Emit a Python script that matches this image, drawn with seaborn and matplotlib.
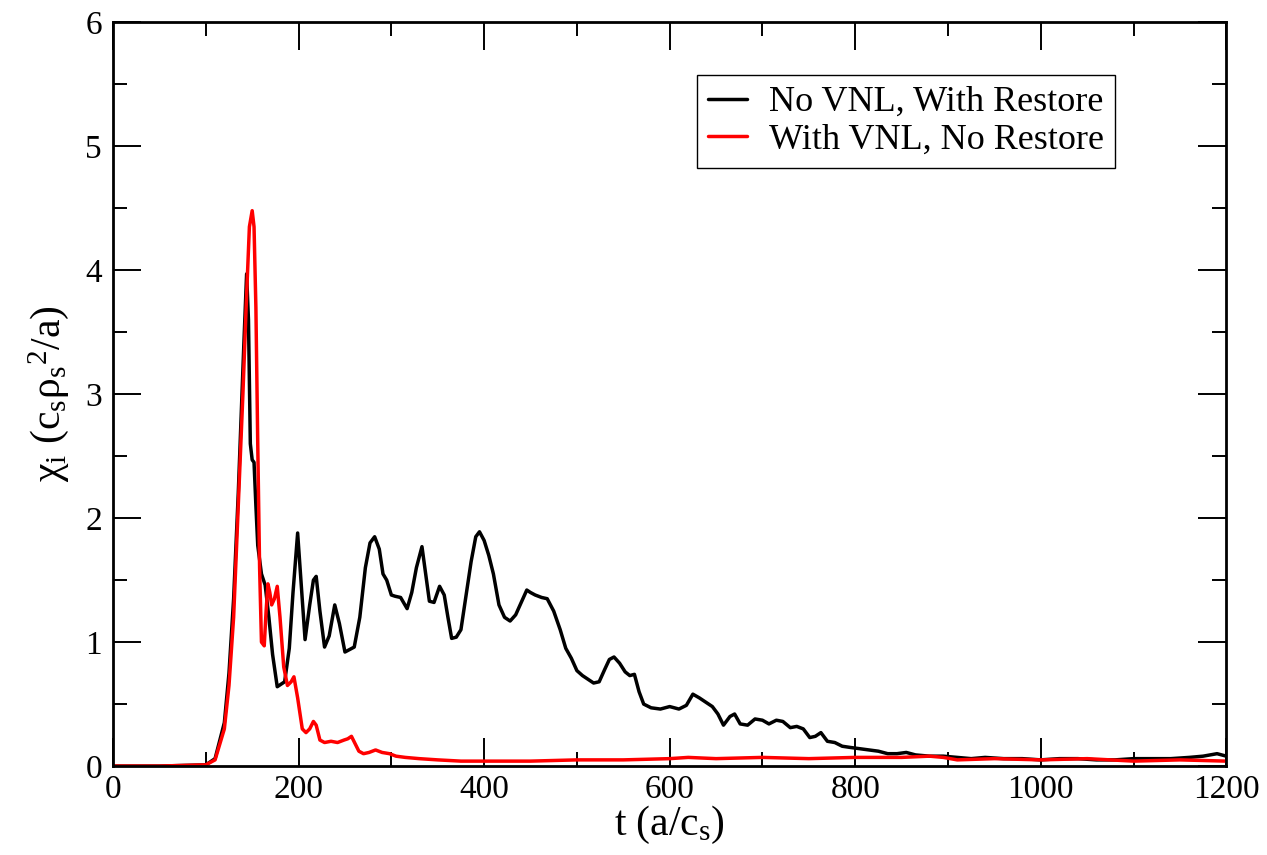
import numpy as np
import pandas as pd
import seaborn as sns
import matplotlib
matplotlib.use("Agg")
import matplotlib.pyplot as plt
from matplotlib.ticker import MultipleLocator

# Ion heat diffusivity traces versus time, as (t, chi_i) samples
restore_points = [
    (0, 0.0), (50, 0.0), (100, 0.01), (110, 0.06), (120, 0.35), (125, 0.75), (130, 1.35),
    (135, 2.2), (138, 2.8), (141, 3.4), (144, 3.97), (146, 3.6), (148, 2.6), (150, 2.47),
    (152, 2.45), (154, 2.1), (156, 1.78), (160, 1.55), (164, 1.46), (168, 1.2), (172, 0.9),
    (177, 0.64), (181, 0.66), (185, 0.68), (190, 0.95), (194, 1.4), (199, 1.88), (203, 1.45),
    (207, 1.02), (212, 1.3), (216, 1.5), (219, 1.53), (223, 1.25), (228, 0.96), (233, 1.05),
    (239, 1.3), (244, 1.15), (250, 0.92), (255, 0.94), (260, 0.96), (266, 1.2), (272, 1.6),
    (277, 1.8), (282, 1.85), (287, 1.75), (291, 1.55), (295, 1.5), (300, 1.38), (304, 1.37),
    (310, 1.36), (317, 1.27), (322, 1.4), (327, 1.6), (333, 1.77), (337, 1.55), (341, 1.33),
    (346, 1.32), (352, 1.45), (357, 1.38), (361, 1.2), (365, 1.03), (370, 1.04), (375, 1.1),
    (380, 1.35), (386, 1.65), (391, 1.85), (395, 1.89), (400, 1.82), (405, 1.7), (410, 1.55),
    (416, 1.3), (422, 1.2), (428, 1.17), (434, 1.22), (440, 1.32), (446, 1.42), (450, 1.4),
    (455, 1.38), (462, 1.36), (468, 1.35), (475, 1.25), (482, 1.1), (488, 0.95), (494, 0.87),
    (500, 0.77), (506, 0.73), (512, 0.7), (518, 0.67), (524, 0.68), (530, 0.78), (535, 0.86),
    (540, 0.88), (546, 0.83), (552, 0.76), (557, 0.73), (562, 0.74), (567, 0.6), (572, 0.5),
    (580, 0.47), (590, 0.46), (600, 0.48), (610, 0.46), (618, 0.49), (625, 0.58), (632, 0.55),
    (640, 0.51), (646, 0.48), (652, 0.42), (658, 0.33), (665, 0.4), (670, 0.42), (676, 0.34),
    (684, 0.33), (692, 0.38), (700, 0.37), (707, 0.34), (715, 0.37), (722, 0.36), (730, 0.31),
    (737, 0.32), (744, 0.3), (751, 0.23), (757, 0.24), (763, 0.27), (770, 0.2), (778, 0.19),
    (786, 0.16), (795, 0.15), (805, 0.14), (815, 0.13), (825, 0.12), (835, 0.1), (845, 0.1),
    (855, 0.11), (865, 0.09), (880, 0.08), (895, 0.08), (910, 0.07), (925, 0.06), (940, 0.07),
    (960, 0.06), (980, 0.06), (1000, 0.05), (1020, 0.06), (1040, 0.06), (1060, 0.05),
    (1080, 0.05), (1100, 0.06), (1120, 0.06), (1140, 0.06), (1160, 0.07), (1175, 0.08),
    (1190, 0.1), (1200, 0.08),
]

vnl_points = [
    (0, 0.0), (50, 0.0), (100, 0.01), (110, 0.05), (120, 0.3), (125, 0.65), (130, 1.2),
    (135, 2.1), (140, 3.0), (144, 3.8), (147, 4.35), (150, 4.48), (152, 4.35), (154, 3.7),
    (156, 2.6), (158, 1.6), (160, 1.0), (163, 0.97), (165, 1.25), (167, 1.47), (169, 1.4),
    (171, 1.3), (174, 1.35), (177, 1.45), (180, 1.2), (184, 0.8), (188, 0.65), (192, 0.68),
    (195, 0.72), (199, 0.55), (204, 0.3), (208, 0.27), (212, 0.3), (216, 0.36), (219, 0.33),
    (223, 0.21), (228, 0.19), (235, 0.2), (242, 0.19), (249, 0.21), (253, 0.22), (257, 0.24),
    (261, 0.18), (265, 0.12), (270, 0.1), (276, 0.11), (283, 0.13), (290, 0.11), (298, 0.1),
    (305, 0.08), (315, 0.07), (330, 0.06), (350, 0.05), (375, 0.04), (400, 0.04), (450, 0.04),
    (500, 0.05), (550, 0.05), (600, 0.06), (620, 0.07), (650, 0.06), (700, 0.07), (750, 0.06),
    (800, 0.07), (850, 0.07), (880, 0.08), (895, 0.07), (910, 0.05), (950, 0.06), (1000, 0.05),
    (1050, 0.06), (1100, 0.04), (1150, 0.05), (1200, 0.04),
]

t_restore = [p[0] for p in restore_points]
chi_restore = [p[1] for p in restore_points]
t_vnl = [p[0] for p in vnl_points]
chi_vnl = [p[1] for p in vnl_points]

series_names = ["No VNL, With Restore", "With VNL, No Restore"]
series_colors = ["#000000", "#ff0000"]

df = pd.concat([
    pd.DataFrame({"t": t_restore, "chi": chi_restore, "run": series_names[0]}),
    pd.DataFrame({"t": t_vnl, "chi": chi_vnl, "run": series_names[1]}),
], ignore_index=True)

sns.set_theme(style="ticks")
plt.rcParams["font.family"] = ["Liberation Serif", "DejaVu Serif"]
plt.rcParams["mathtext.fontset"] = "custom"
plt.rcParams["mathtext.rm"] = "Liberation Serif"
plt.rcParams["mathtext.it"] = "Liberation Serif:italic"
plt.rcParams["lines.solid_joinstyle"] = "round"

fig = plt.figure(figsize=(12.67, 8.55), dpi=100)
ax = fig.add_axes([0.0892, 0.104, 0.8787, 0.870])

sns.lineplot(data=df, x="t", y="chi", hue="run", palette=dict(zip(series_names, series_colors)),
             hue_order=series_names, estimator=None, sort=False, linewidth=2.5, ax=ax)

ax.set_xlim(0, 1200)
ax.set_ylim(0, 6)
ax.xaxis.set_major_locator(MultipleLocator(200))
ax.xaxis.set_minor_locator(MultipleLocator(100))
ax.yaxis.set_major_locator(MultipleLocator(1))
ax.yaxis.set_minor_locator(MultipleLocator(0.5))
ax.tick_params(which="both", direction="in", top=True, right=True, color="black", width=1.4)
ax.tick_params(which="major", length=20, labelsize=24, labelcolor="black")
ax.tick_params(axis="x", which="major", pad=6)
ax.tick_params(axis="y", which="major", pad=8)
ax.tick_params(which="minor", length=10)
for s in ax.spines.values():
    s.set_linewidth(2.0)
    s.set_color("black")

ax.set_xlabel("t (a/c$_\\mathrm{s}$)", fontsize=30, labelpad=-1, color="black")
ax.set_ylabel("χ$_\\mathrm{i}$ (c$_\\mathrm{s}$ρ$_\\mathrm{s}$$^\\mathrm{2}$/a)", fontsize=30,
              labelpad=10, color="black")

leg = ax.legend(loc="upper right", bbox_to_anchor=(0.9, 0.929), borderaxespad=0,
                fontsize=26, frameon=True, fancybox=False, framealpha=1, edgecolor="black",
                handlelength=1.1, handletextpad=0.6, borderpad=0.3, labelspacing=0.12)
leg.get_frame().set_linewidth(1.0)
for ln in leg.get_lines():
    ln.set_linewidth(2.5)
for txt in leg.get_texts():
    txt.set_color("black")

fig.savefig("out.png", dpi=100, facecolor="white")
